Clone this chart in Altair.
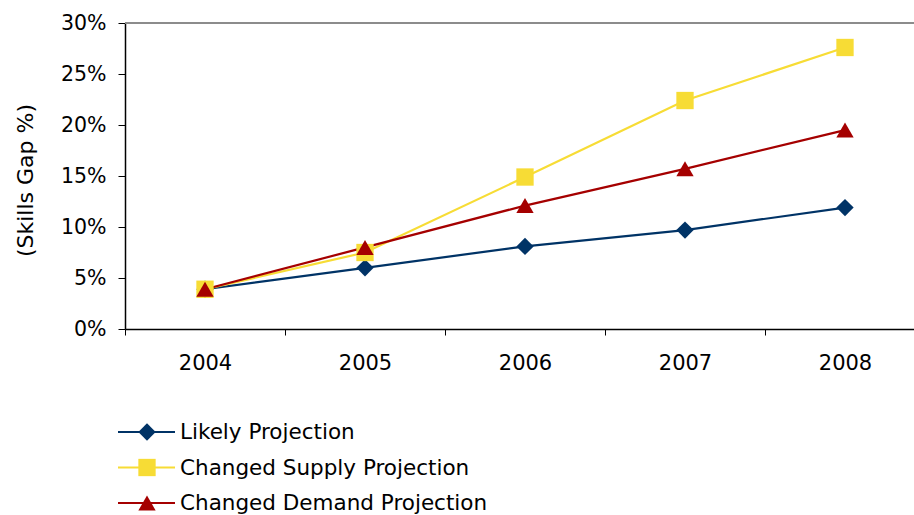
import altair as alt
import pandas as pd

years = ["2004", "2005", "2006", "2007", "2008"]
series_names = ["Likely Projection", "Changed Supply Projection", "Changed Demand Projection"]
likely = [0.039, 0.060, 0.081, 0.097, 0.119]
supply = [0.039, 0.075, 0.149, 0.224, 0.276]
demand = [0.039, 0.080, 0.121, 0.157, 0.195]
colors = ["#003366", "#F7DC35", "#A50000"]
shapes = ["diamond", "square", "triangle-up"]
y_ticks = [0, 0.05, 0.10, 0.15, 0.20, 0.25, 0.30]

FONT = "DejaVu Sans"
W, H = 789, 306

rows = []
for name, vals in zip(series_names, [likely, supply, demand]):
    for yr, v in zip(years, vals):
        rows.append({"year": yr, "series": name, "value": v})
df = pd.DataFrame(rows)

x_enc = alt.X(
    "year:O",
    scale=alt.Scale(type="band", range=[0, 800], paddingInner=0, paddingOuter=0),
    axis=alt.Axis(
        title=None, labelAngle=0, labelFont=FONT, labelFontSize=21, labelColor="#000000",
        labelPadding=17, tickSize=6, tickBand="extent", tickColor="#000000", tickWidth=1,
        domainColor="#000000", domainWidth=1.5,
    ),
)
y_enc = alt.Y(
    "value:Q",
    scale=alt.Scale(domain=[0, 0.3], nice=False, zero=True),
    axis=alt.Axis(
        values=y_ticks, format=".0%", labelFont=FONT, labelFontSize=20.5, labelColor="#000000",
        labelPadding=12, tickSize=7, tickColor="#000000", tickWidth=1,
        domainColor="#000000", domainWidth=1.5, grid=False,
        title="(Skills Gap %)", titleFont=FONT, titleFontSize=22, titleFontWeight="normal",
        titleColor="#000000", titleX=-100, titleY=157, titleAngle=-90,
        titleAlign="center", titleBaseline="middle",
    ),
)
color_enc = alt.Color("series:N", scale=alt.Scale(domain=series_names, range=colors), legend=None)

top_border = alt.Chart(pd.DataFrame({"a": [0]})).mark_rule(color="#8c8c8c", strokeWidth=2).encode(
    x=alt.value(0), x2=alt.value(W), y=alt.value(0)
)

lines = alt.Chart(df).mark_line(strokeWidth=2.2).encode(
    x=x_enc, y=y_enc, color=color_enc, detail="series:N"
)
points = alt.Chart(df).mark_point(filled=True, size=300, opacity=1).encode(
    x=x_enc, y=y_enc, color=color_enc,
    shape=alt.Shape("series:N", scale=alt.Scale(domain=series_names, range=shapes), legend=None),
)

layers = [top_border, lines, points]
row_y = [409, 444.5, 480]
for name, col, shp, ry in zip(series_names, colors, shapes, row_y):
    ld = pd.DataFrame({"series": [name]})
    base = alt.Chart(ld)
    layers.append(base.mark_rule(color=col, strokeWidth=2.2).encode(
        x=alt.value(-7), x2=alt.value(50), y=alt.value(ry)))
    layers.append(base.mark_point(filled=True, size=300, opacity=1, color=col, shape=shp).encode(
        x=alt.value(22), y=alt.value(ry)))
    layers.append(base.mark_text(align="left", baseline="middle", font=FONT, fontSize=21.5,
                                 color="#000000").encode(
        x=alt.value(55), y=alt.value(ry + 1), text="series:N"))

chart = alt.layer(*layers).properties(
    width=W, height=H,
    autosize=alt.AutoSizeParams(type="none"),
    padding={"left": 125, "top": 23, "right": 0, "bottom": 186},
    background="#ffffff",
).configure_view(strokeWidth=0)

chart.save("out.html", embed_options={"renderer": "svg", "actions": False})
